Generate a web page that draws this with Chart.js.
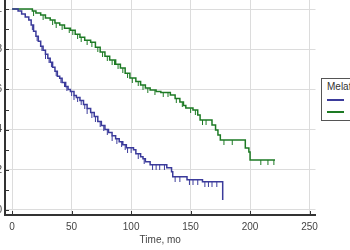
<!DOCTYPE html>
<html>
<head>
<meta charset="utf-8">
<script src="https://cdn.jsdelivr.net/npm/chart.js@4"></script>
<style>
  html, body { margin: 0; padding: 0; background: #fff; }
  #wrap { position: relative; width: 350px; height: 250px; overflow: hidden; background: #fff; }
  #kmChart { position: absolute; left: -45px; top: -10px; }
  .legend-box {
    position: absolute; left: 321px; top: 78px; width: 60px; height: 41px;
    border: 1px solid #555; background: #fff;
    font: 10px "Liberation Sans", Arial, sans-serif; color: #333;
  }
  .legend-box .ttl { position: absolute; left: 5px; top: 2px; }
  .legend-box .ln { position: absolute; left: 5px; width: 17px; height: 2px; }
</style>
</head>
<body>
<div id="wrap">
  <canvas id="kmChart" width="369" height="270"></canvas>
  <div class="legend-box">
    <span class="ttl">Melatonin</span>
    <div class="ln" style="top:20px;background:#3b3b9b"></div>
    <div class="ln" style="top:32px;background:#1d7a24"></div>
  </div>
</div>

<script>
// survival curves (time in months, survival fraction)
const blueTimes = [0, 5, 8, 11, 14, 16, 18, 20, 22, 24, 26, 28, 30, 32, 34, 36, 38, 40, 42, 45, 47, 49,
  52, 54, 57, 60, 63, 66, 69, 72, 75, 78, 81, 84, 87, 90, 93, 96, 102, 104, 108, 110, 112, 116,
  130, 134, 135, 147, 160, 177];
const blueSurv = [1.0, 0.99, 0.975, 0.96, 0.945, 0.92, 0.89, 0.865, 0.84, 0.815, 0.795, 0.775, 0.755, 0.735,
  0.71, 0.69, 0.665, 0.655, 0.635, 0.615, 0.6, 0.59, 0.57, 0.56, 0.545, 0.525, 0.505, 0.485, 0.465,
  0.44, 0.42, 0.4, 0.385, 0.37, 0.355, 0.34, 0.325, 0.31, 0.3, 0.28, 0.265, 0.255, 0.24, 0.225,
  0.21, 0.19, 0.165, 0.15, 0.14, 0.05];

const greenTimes = [0, 17, 20, 24, 28, 32, 36, 40, 44, 49, 53, 57, 61, 66, 70, 74, 78, 82, 87, 91, 95,
  99, 104, 108, 112, 116, 121, 125, 133, 137, 141, 144, 146, 152, 156, 158, 168, 171, 173, 175,
  196, 199, 200, 221];
const greenSurv = [1.0, 0.99, 0.98, 0.97, 0.955, 0.945, 0.93, 0.92, 0.905, 0.895, 0.875, 0.86, 0.845,
  0.835, 0.81, 0.786, 0.765, 0.746, 0.725, 0.706, 0.68, 0.657, 0.64, 0.622, 0.607, 0.597, 0.59,
  0.585, 0.572, 0.555, 0.537, 0.52, 0.507, 0.498, 0.473, 0.448, 0.423, 0.398, 0.373, 0.348,
  0.308, 0.289, 0.249, 0.249];

// censored observations (tick marks)
const blueCensored = [17, 21, 25, 28, 31, 33, 37, 41, 44, 46, 50, 52, 55, 58, 61, 63, 67, 70, 74, 77,
  80, 84, 88, 92, 95, 97, 100, 106, 111, 118, 121, 124, 128, 137, 141, 149, 152, 156, 162, 165,
  168, 172];
const greenCensored = [18, 26, 34, 37, 42, 48, 51, 55, 58, 63, 67, 72, 76, 80, 84, 86, 89, 93, 97,
  101, 106, 110, 114, 120, 127, 131, 138, 143, 150, 154, 160, 163, 178, 185, 209, 215, 220];

const xTickValues = [0, 50, 100, 150, 200, 250];
const yTickValues = [0, 0.1, 0.2, 0.3, 0.4, 0.5, 0.6, 0.7, 0.8, 0.9, 1.0];

const BLUE = '#3b3b9b';
const GREEN = '#1d7a24';

function toPoints(times, surv) {
  return times.map((t, i) => ({ x: t, y: surv[i] }));
}

// survival value in effect at time t (step function lookup)
function survAt(times, surv, t) {
  let s = surv[0];
  for (let i = 0; i < times.length; i++) {
    if (times[i] <= t) s = surv[i];
  }
  return s;
}

function censorMark(color) {
  const c = document.createElement('canvas');
  c.width = 3;
  c.height = 10;
  const g = c.getContext('2d');
  g.fillStyle = color;
  g.fillRect(1, 5, 1, 5);
  return c;
}

const inwardTicks = {
  id: 'inwardTicks',
  afterDraw(chart) {
    const { ctx, chartArea, scales } = chart;
    ctx.save();
    ctx.strokeStyle = '#333';
    ctx.lineWidth = 1;
    ctx.beginPath();
    xTickValues.forEach(v => {
      const px = Math.round(scales.x.getPixelForValue(v)) + 0.5;
      ctx.moveTo(px, chartArea.bottom);
      ctx.lineTo(px, chartArea.bottom - 4);
    });
    yTickValues.forEach(v => {
      const py = Math.round(scales.y.getPixelForValue(v)) + 0.5;
      ctx.moveTo(chartArea.left, py);
      ctx.lineTo(chartArea.left + 4, py);
    });
    ctx.stroke();
    ctx.restore();
  }
};

const font = { family: '"Liberation Sans", Arial, sans-serif', size: 10 };

new Chart(document.getElementById('kmChart'), {
  type: 'scatter',
  data: {
    datasets: [
      {
        label: 'Melatonin - blue',
        data: toPoints(blueTimes, blueSurv),
        showLine: true,
        stepped: 'before',
        borderColor: BLUE,
        borderWidth: 1.5,
        pointRadius: 0
      },
      {
        label: 'Melatonin - green',
        data: toPoints(greenTimes, greenSurv),
        showLine: true,
        stepped: 'before',
        borderColor: GREEN,
        borderWidth: 1.5,
        pointRadius: 0
      },
      {
        label: 'blue censored',
        data: blueCensored.map(t => ({ x: t, y: survAt(blueTimes, blueSurv, t) })),
        pointStyle: censorMark(BLUE),
        pointRadius: 5
      },
      {
        label: 'green censored',
        data: greenCensored.map(t => ({ x: t, y: survAt(greenTimes, greenSurv, t) })),
        pointStyle: censorMark(GREEN),
        pointRadius: 5
      }
    ]
  },
  options: {
    responsive: false,
    animation: false,
    layout: { padding: { top: 9, right: 5, left: 0, bottom: 0 } },
    plugins: {
      legend: { display: false },
      tooltip: { enabled: false }
    },
    scales: {
      x: {
        type: 'linear',
        min: -6,
        max: 255,
        afterFit: s => { s.height = 45; },
        border: { color: '#333', width: 2 },
        grid: { color: '#dcdcdc', drawTicks: false },
        ticks: {
          stepSize: 50,
          includeBounds: false,
          padding: 6,
          color: '#444',
          font: font
        },
        title: {
          display: true,
          text: 'Time, mo',
          color: '#444',
          font: font,
          padding: { top: 0, bottom: 14 }
        }
      },
      y: {
        min: -0.025,
        max: 1.05,
        afterFit: s => { s.width = 50; },
        border: { color: '#333', width: 2 },
        grid: { color: '#dcdcdc', drawTicks: false },
        ticks: {
          stepSize: 0.2,
          includeBounds: false,
          padding: 3,
          color: '#444',
          font: font,
          callback: v => (Math.round(v * 10) / 10).toString()
        }
      }
    }
  },
  plugins: [inwardTicks]
});
</script>
</body>
</html>
